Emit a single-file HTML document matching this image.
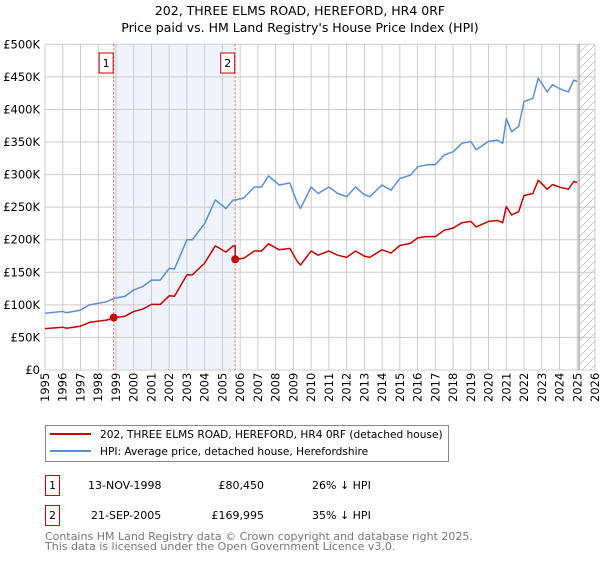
<!DOCTYPE html>
<html><head><meta charset="utf-8"><style>
body{margin:0;width:600px;height:560px;background:#fff;font-family:"Liberation Sans","DejaVu Sans",sans-serif;overflow:hidden}
svg text{font-family:"DejaVu Sans","Liberation Sans",sans-serif}
</style></head><body>
<svg id="chart" width="600" height="560" xmlns="http://www.w3.org/2000/svg">
<text x="300" y="15" text-anchor="middle" font-size="12.5" fill="#000">202, THREE ELMS ROAD, HEREFORD, HR4 0RF</text>
<text x="300" y="32" text-anchor="middle" font-size="12.5" fill="#000">Price paid vs. HM Land Registry's House Price Index (HPI)</text>
<g id="plot"></g>
<g>
<rect x="45.5" y="425.5" width="403" height="36" fill="#fff" stroke="#888"/>
<line x1="50" y1="434" x2="91" y2="434" stroke="#cc0000" stroke-width="2"/>
<text x="100" y="438" font-size="10.6">202, THREE ELMS ROAD, HEREFORD, HR4 0RF (detached house)</text>
<line x1="50" y1="451" x2="91" y2="451" stroke="#5b8fd4" stroke-width="2"/>
<text x="100" y="455" font-size="10.6">HPI: Average price, detached house, Herefordshire</text>
</g>
<g font-size="11">
<rect x="45.5" y="475.5" width="14" height="20" fill="#fff" stroke="#cc0000"/>
<text x="52.5" y="489" text-anchor="middle">1</text>
<text x="88" y="489">13-NOV-1998</text>
<text x="264" y="489" text-anchor="end">£80,450</text>
<text x="312" y="489">26% ↓ HPI</text>
</g>
<g font-size="11">
<rect x="45.5" y="505.5" width="14" height="20" fill="#fff" stroke="#cc0000"/>
<text x="52.5" y="519" text-anchor="middle">2</text>
<text x="91" y="519">21-SEP-2005</text>
<text x="264" y="519" text-anchor="end">£169,995</text>
<text x="312" y="519">35% ↓ HPI</text>
</g>
<text x="45" y="540" font-size="11" fill="#777">Contains HM Land Registry data © Crown copyright and database right 2025.</text>
<text x="45" y="550" font-size="11" fill="#777">This data is licensed under the Open Government Licence v3.0.</text>
</svg>
<script>
const years=[1995,1996,1997,1998,1999,2000,2001,2002,2003,2004,2005,2006,2007,2008,2009,2010,2011,2012,2013,2014,2015,2016,2017,2018,2019,2020,2021,2022,2023,2024,2025,2026];
const yTicks=[0,50,100,150,200,250,300,350,400,450,500];
const yTickLabels=["£0","£50K","£100K","£150K","£200K","£250K","£300K","£350K","£400K","£450K","£500K"];
const times=[1995.0,1996.0,1996.2,1997.0,1997.5,1998.5,1998.9,1999.5,2000.0,2000.5,2001.0,2001.5,2002.0,2002.3,2003.0,2003.3,2004.0,2004.6,2005.2,2005.6,2005.72,2005.72,2006.2,2006.8,2007.2,2007.6,2008.2,2008.8,2009.2,2009.4,2010.0,2010.4,2011.0,2011.5,2012.0,2012.5,2013.0,2013.3,2014.0,2014.5,2015.0,2015.6,2016.0,2016.5,2017.0,2017.5,2018.0,2018.5,2019.0,2019.3,2020.0,2020.5,2020.8,2021.0,2021.3,2021.7,2022.0,2022.5,2022.8,2023.0,2023.3,2023.6,2024.0,2024.5,2024.8,2025.0];
const hpiValues=[87,90,88,92,100,105,110,113,123,128,138,138,156,155,200,200,225,261,248,261,261,261,264,281,281,298,284,287,258,248,281,271,281,271,266,281,269,266,284,276,294,299,312,315,315,330,335,348,351,338,351,353,348,386,366,374,412,417,448,440,427,438,432,427,445,443];
const priceValues=[63.5,65.7,64.2,67.2,73,76.7,80.3,82.5,89.8,93.4,100.7,100.7,113.9,113.2,146,146,164.3,190.5,181,190.5,190.5,170,171.6,182.7,182.7,193.7,184.6,186.6,167.7,161.2,182.7,176.2,182.7,176.2,172.9,182.7,174.9,172.9,184.6,179.4,191.1,194.4,202.8,204.8,204.8,214.5,217.8,226.2,228.2,219.7,228.2,229.5,226.2,250.9,237.9,243.1,267.8,271,291.2,286,277.6,284.7,280.8,277.6,289.3,288];
const saleTimes=[1998.87,2005.72];
const salePrices=[80.45,169.995];
const saleLabels=["1","2"];
const dataEnd=2025.1;

const X0=45,X1=595,Y0=370,Y1=44.3;
const xs=t=>X0+(t-1995)/(2026-1995)*(X1-X0);
const ys=v=>Y0-v/500*(Y0-Y1);
const NS="http://www.w3.org/2000/svg";
const plot=document.getElementById('plot');
function mk(tag,attrs,parent){const e=document.createElementNS(NS,tag);for(const k in attrs)e.setAttribute(k,attrs[k]);(parent||plot).appendChild(e);return e;}

const band=mk('rect',{x:xs(saleTimes[0]),y:Y1,width:xs(saleTimes[1])-xs(saleTimes[0]),height:Y0-Y1,fill:'#eef3fc'});


const defs=mk('defs',{});
const pat=mk('pattern',{id:'hatch',width:8,height:8,patternUnits:'userSpaceOnUse'},defs);
mk('line',{x1:0,y1:8,x2:8,y2:0,stroke:'#bbb','stroke-width':0.7},pat);
const hatch=mk('rect',{x:xs(dataEnd),y:Y1,width:X1-xs(dataEnd),height:Y0-Y1,fill:'url(#hatch)'});


years.forEach(y=>{
  const l=mk('line',{x1:xs(y),x2:xs(y),y1:Y1,y2:Y0,stroke:'#cccccc','stroke-width':1});
  
  
  const t=mk('text',{x:0,y:0,transform:`translate(${xs(y)+4},${Y0+32}) rotate(-90)`,'font-size':11.5,fill:'#000'});
  
  
  t.textContent=y;
});
yTicks.forEach((v,i)=>{
  const l=mk('line',{x1:X0,x2:X1,y1:ys(v),y2:ys(v),stroke:'#cccccc','stroke-width':1});
  
  
  const t=mk('text',{x:40,y:ys(v)+4,'text-anchor':'end','font-size':11.5,fill:'#000'});
  
  
  t.textContent=yTickLabels[i];
});
const endLine=mk('line',{x1:xs(dataEnd),x2:xs(dataEnd),y1:Y1,y2:Y0,stroke:'#888','stroke-width':1});


saleTimes.forEach((t,i)=>{
  const l=mk('line',{x1:xs(t),x2:xs(t),y1:Y1,y2:Y0,stroke:'#e06060','stroke-width':1,'stroke-dasharray':'2,2'});
  
  
  const r=mk('rect',{x:xs(t)-14.5,y:53,width:14,height:20,fill:'#fff',stroke:'#cc0000'});
  
  
  const tx=mk('text',{x:xs(t)-7.5,y:67,'text-anchor':'middle','font-size':11});
  
  
  tx.textContent=saleLabels[i];
});
function line(vals,color,name){
  const d=times.map((t,i)=>(i?'L':'M')+xs(t).toFixed(1)+','+ys(vals[i]).toFixed(1)).join(' ');
  const p=mk('path',{d:d,fill:'none',stroke:color,'stroke-width':1.5,'stroke-linejoin':'round'});
  
  
}
line(hpiValues,'#5b8fd4','hpi-line');
line(priceValues,'#cc0000','price-line');
saleTimes.forEach((t,i)=>{
  const c=mk('circle',{cx:xs(t),cy:ys(salePrices[i]),r:4,fill:'#cc0000'});
  
  
});
</script>
</body></html>
